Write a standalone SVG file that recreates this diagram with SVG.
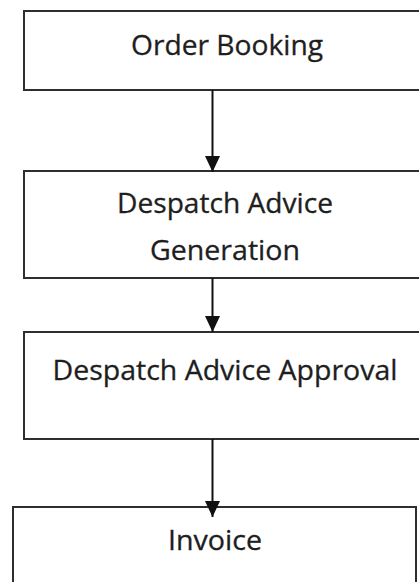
<svg xmlns="http://www.w3.org/2000/svg" width="419" height="582" viewBox="0 0 419 582">
  <defs>
    <marker id="arrow" viewBox="0 0 16 15" refX="16" refY="7.5" markerWidth="16" markerHeight="15" markerUnits="userSpaceOnUse" orient="auto">
      <path d="M0,0 L16,7.5 L0,15 Z" fill="#111"/>
    </marker>
  </defs>
  <style>
    .box { fill: #ffffff; stroke: #2e2e2e; stroke-width: 2; }
    .label { font-family: "Open Sans", "Liberation Sans", sans-serif; font-size: 27px; fill: #1e1e1e; stroke: #1e1e1e; stroke-width: 0.3; text-anchor: middle; }
    .edge { stroke: #111111; stroke-width: 2; fill: none; marker-end: url(#arrow); }
  </style>
  <rect width="419" height="582" fill="#ffffff"/>

  <g id="order-booking">
    <rect class="box" x="24" y="11" width="420" height="79"/>
    <text class="label" x="227" y="55" textLength="192" lengthAdjust="spacingAndGlyphs">Order Booking</text>
  </g>

  <g id="despatch-advice-generation">
    <rect class="box" x="24" y="171" width="420" height="107"/>
    <text class="label" x="225" y="213" textLength="216" lengthAdjust="spacingAndGlyphs">Despatch Advice</text>
    <text class="label" x="225" y="260" textLength="150" lengthAdjust="spacingAndGlyphs">Generation</text>
  </g>

  <g id="despatch-advice-approval">
    <rect class="box" x="24" y="332" width="420" height="107"/>
    <text class="label" x="225" y="380" textLength="345" lengthAdjust="spacingAndGlyphs">Despatch Advice Approval</text>
  </g>

  <g id="invoice">
    <rect class="box" x="13" y="507" width="403" height="90"/>
    <text class="label" x="215" y="550" textLength="94" lengthAdjust="spacingAndGlyphs">Invoice</text>
  </g>

  <g id="connectors">
    <line class="edge" x1="212.5" y1="90" x2="212.5" y2="172"/>
    <line class="edge" x1="212.5" y1="278" x2="212.5" y2="332"/>
    <line class="edge" x1="212.5" y1="439" x2="212.5" y2="517"/>
  </g>
</svg>
